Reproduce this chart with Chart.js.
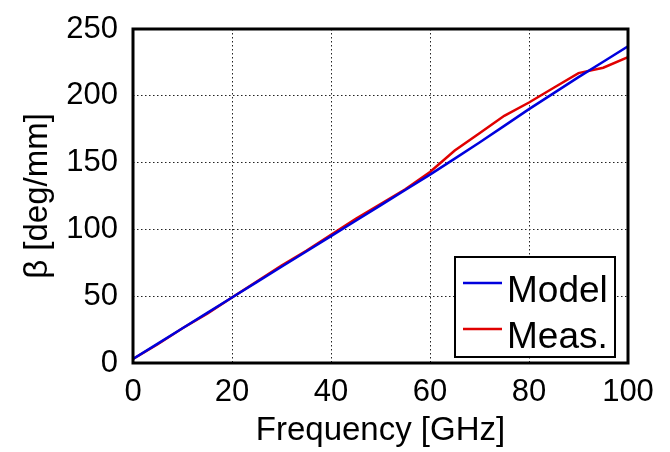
<!DOCTYPE html>
<html>
<head>
<meta charset="utf-8">
<script src="https://cdn.jsdelivr.net/npm/chart.js@4"></script>
<style>
  html, body { margin: 0; padding: 0; background: #fff; }
  #wrap { width: 670px; height: 452px; }
</style>
</head>
<body>
<div id="wrap"><canvas id="betaChart" width="670" height="452"></canvas></div>
<script>
// frequency points (GHz)
const freq = [0, 5, 10, 15, 20, 25, 30, 35, 40, 45, 50, 55, 60, 65, 70, 75, 80, 85, 90, 95, 100];
// beta, model (deg/mm)
const model = [3, 14.5, 26, 37.5, 49, 60.5, 72, 83.5, 95, 106.5, 118, 129.5, 141, 153, 165, 177.5, 190, 202, 214, 225.5, 237];
// beta, measured (deg/mm)
const meas = [3, 14, 26, 37, 49, 61, 73, 84, 96, 108, 119, 130, 143, 159, 172, 185, 195, 206, 217, 221, 229];
const xTicks = [0, 20, 40, 60, 80, 100];
const yTicks = [0, 50, 100, 150, 200, 250];

const FONT = 'Arial, "Liberation Sans", sans-serif';

const toPoints = (ys) => freq.map((f, i) => ({ x: f, y: ys[i] }));

// frame round the plot area and legend box inside it
const framePlugin = {
  id: 'frame',
  afterDraw(chart) {
    const { ctx, chartArea: a } = chart;
    ctx.save();
    ctx.strokeStyle = '#000';
    ctx.lineWidth = 3;
    ctx.strokeRect(a.left, a.top, a.right - a.left, a.bottom - a.top);

    // legend
    const bx = a.right - 173, by = a.bottom - 106, bw = 160, bh = 100;
    ctx.fillStyle = '#fff';
    ctx.fillRect(bx, by, bw, bh);
    ctx.lineWidth = 2;
    ctx.strokeRect(bx, by, bw, bh);
    ctx.font = '37px ' + FONT;
    ctx.textBaseline = 'alphabetic';
    chart.data.datasets.forEach((ds, i) => {
      const base = by + 45 + i * 46;
      ctx.strokeStyle = ds.borderColor;
      ctx.lineWidth = 2.5;
      ctx.beginPath();
      ctx.moveTo(bx + 8, base - 19);
      ctx.lineTo(bx + 47, base - 19);
      ctx.stroke();
      ctx.fillStyle = '#000';
      ctx.fillText(ds.label, bx + 52, base);
    });
    ctx.restore();
  }
};

new Chart(document.getElementById('betaChart').getContext('2d'), {
  type: 'line',
  data: {
    datasets: [
      { label: 'Model', data: toPoints(model), borderColor: '#0000dd', borderWidth: 2.5, pointRadius: 0, tension: 0 },
      { label: 'Meas.', data: toPoints(meas), borderColor: '#e00000', borderWidth: 2.5, pointRadius: 0, tension: 0 }
    ]
  },
  options: {
    responsive: false,
    animation: false,
    layout: { padding: { top: 29, right: 42, left: 0, bottom: 0 } },
    plugins: { legend: { display: false }, tooltip: { enabled: false } },
    scales: {
      x: {
        type: 'linear',
        min: 0, max: 100,
        afterBuildTicks: (s) => { s.ticks = xTicks.map(v => ({ value: v })); },
        afterFit: (s) => { s.height = 89; s.paddingLeft = 0; s.paddingRight = 0; },
        grid: { color: '#222', lineWidth: 1, drawTicks: false },
        border: { display: false, dash: [1.5, 2.5] },
        ticks: { color: '#000', font: { family: FONT, size: 31 }, padding: 11, maxRotation: 0 },
        title: { display: true, text: 'Frequency [GHz]', color: '#000', font: { family: FONT, size: 33 }, padding: { top: 0, bottom: 1 } }
      },
      y: {
        min: 0, max: 250,
        afterBuildTicks: (s) => { s.ticks = yTicks.map(v => ({ value: v })); },
        afterFit: (s) => { s.width = 133; s.paddingTop = 0; s.paddingBottom = 0; },
        grid: { color: '#222', lineWidth: 1, drawTicks: false },
        border: { display: false, dash: [1.5, 2.5] },
        ticks: { color: '#000', font: { family: FONT, size: 31 }, padding: 15 },
        title: { display: true, text: 'β [deg/mm]', color: '#000', font: { family: FONT, size: 33 }, padding: { top: 18, bottom: 0 } }
      }
    }
  },
  plugins: [framePlugin]
});
</script>
</body>
</html>
